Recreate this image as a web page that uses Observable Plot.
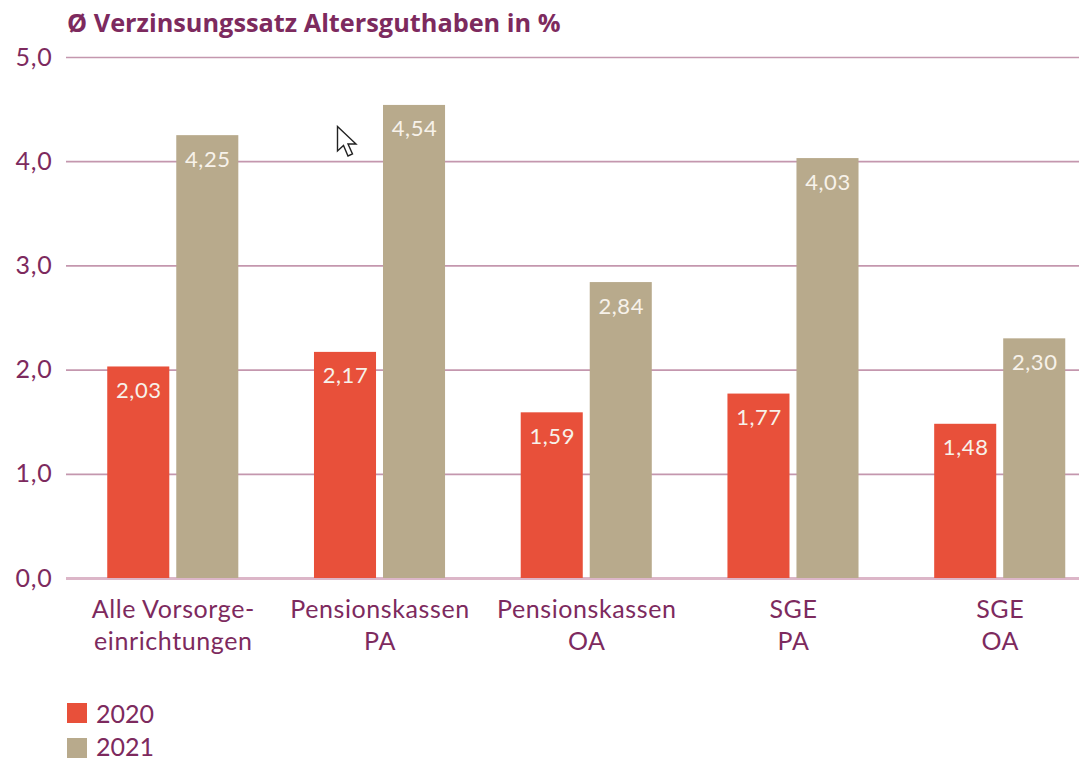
<!DOCTYPE html>
<html><head><meta charset="utf-8">
<script src="https://cdn.jsdelivr.net/npm/d3@7"></script>
<script src="https://cdn.jsdelivr.net/npm/@observablehq/plot@0.6"></script>
<style>
html,body{margin:0;padding:0;background:#fff;}
body{width:1079px;height:761px;position:relative;overflow:hidden;font-family:Lato,"Open Sans",sans-serif;}
#title{position:absolute;left:67px;top:5px;font-family:"Open Sans",sans-serif;font-size:25.3px;line-height:34px;font-weight:700;color:#7d2a5e;white-space:nowrap;}
#grid,#chart{position:absolute;left:0;top:0;}
.leg{position:absolute;left:67px;font-size:25px;color:#7d2a5e;line-height:24px;height:24px;width:100px;}
.leg i{position:absolute;left:0;top:2px;width:20px;height:20px;}
.leg span{position:absolute;left:29px;top:0;}
#cursor{position:absolute;left:336px;top:125px;}
</style></head><body>
<div id="grid"></div>
<div id="chart"></div>
<div id="title">Ø Verzinsungssatz Altersguthaben in %</div>
<div class="leg" style="top:701px"><i style="background:#e8503a"></i><span>2020</span></div>
<div class="leg" style="top:734px"><i style="background:#b8aa8c;top:4px"></i><span>2021</span></div>
<svg id="cursor" width="24" height="38" viewBox="0 0 24 38"><path d="M1.5 1.5 L1.5 26 L7.5 20.5 L12 31 L16.5 29 L12 19 L20 19 Z" fill="#fff" stroke="#222" stroke-width="1.4"/></svg>
<script>
const categories = ["Alle Vorsorge-\neinrichtungen","Pensionskassen\nPA","Pensionskassen\nOA","SGE\nPA","SGE\nOA"];
const values2020 = [2.03,2.17,1.59,1.77,1.48];
const values2021 = [4.25,4.54,2.84,4.03,2.30];
const years = ["2020","2021"];
const yTicks = [0,1,2,3,4,5];
const rows = categories.flatMap((c,i)=>[
  {c,year:years[0],v:values2020[i]},
  {c,year:years[1],v:values2021[i]}
]);
const de = v => v.toFixed(2).replace(".",",");
const ink = "#7d2a5e";
const font = 'Lato,"Open Sans",sans-serif';
const frame = {width:1079,height:660,marginTop:57,marginBottom:82,marginLeft:66,marginRight:0};
const gridPlot = Plot.plot({
  ...frame,
  style:{background:"transparent",fontFamily:font,letterSpacing:"0.8px"},
  y:{domain:[0,5],label:null},
  marks:[
    Plot.ruleY(yTicks.filter(d=>d>0),{stroke:"#c497ae",strokeWidth:1.7}),
    Plot.ruleY([0],{stroke:"#dcb6c8",strokeWidth:3}),
    Plot.axisY(yTicks,{anchor:"left",tickSize:0,tickPadding:14,tickFormat:d=>d.toFixed(1).replace(".",","),
      label:null,fontSize:25,fill:ink})
  ]
});
const barPlot = Plot.plot({
  ...frame,
  style:{background:"transparent",fontFamily:font,letterSpacing:"0.6px"},
  fx:{domain:categories,paddingInner:0.366,paddingOuter:0.133,align:0.75,round:false,label:null},
  x:{domain:years,paddingInner:0.101,paddingOuter:0,round:false,axis:null},
  y:{domain:[0,5],axis:null},
  color:{domain:years,range:["#e8503a","#b8aa8c"]},
  marks:[
    Plot.barY(rows,{fx:"c",x:"year",y:"v",fill:"year"}),
    Plot.text(rows,{fx:"c",x:"year",y:"v",text:d=>de(d.v),dy:24,fill:"#f7f2ea",fontSize:22}),
    Plot.axisFx({anchor:"bottom",tickSize:0,tickPadding:16,label:null,fontSize:25,lineHeight:1.3,fill:ink,lineWidth:Infinity})
  ]
});
document.getElementById("grid").append(gridPlot);
document.getElementById("chart").append(barPlot);
</script>
</body></html>
